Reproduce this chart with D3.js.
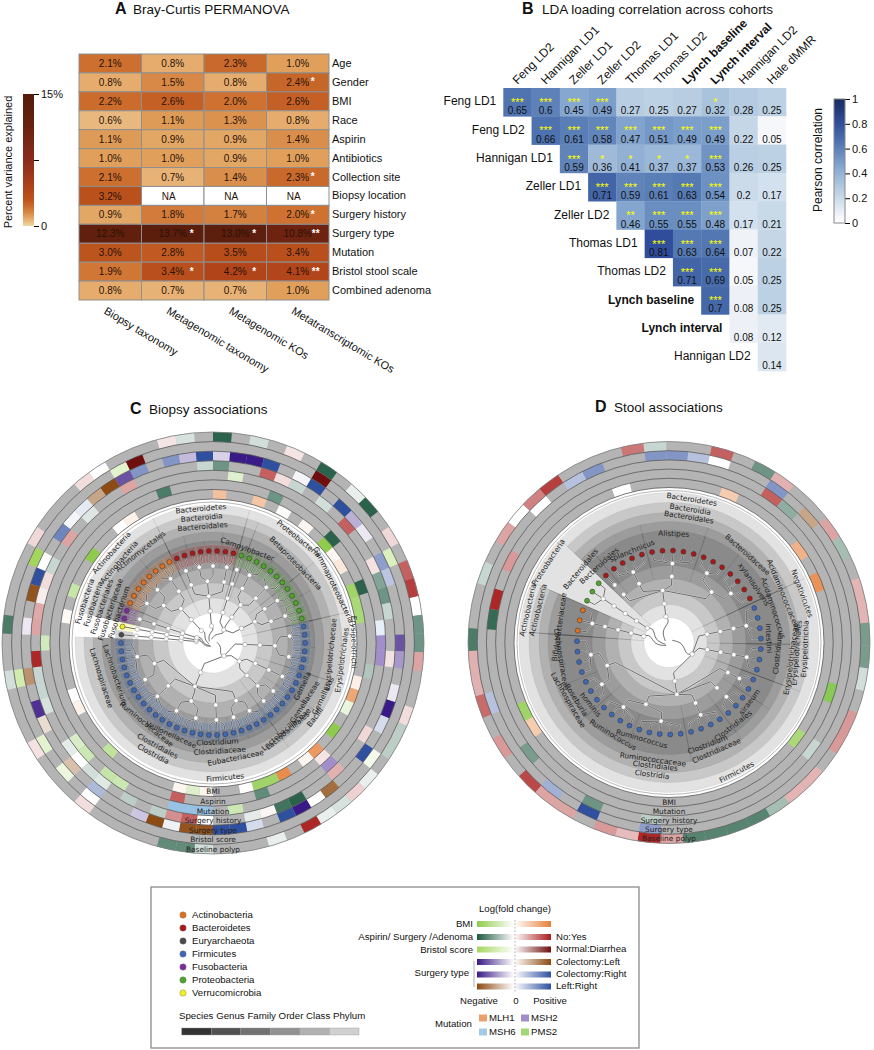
<!DOCTYPE html>
<html>
<head>
<meta charset="utf-8">
<script src="https://cdn.jsdelivr.net/npm/d3@7"></script>
<style>
body { margin: 0; background: #fff; }
text { font-family: "Liberation Sans", Arial, sans-serif; fill: #111; }
.clade text, .clade .ringlabel { font-family: "DejaVu Sans", sans-serif; fill: #222; }
</style>
</head>
<body>
<div id="chart"></div>
<script>
// ---- PANEL A DATA ----
var permanovaRows = ["Age", "Gender", "BMI", "Race", "Aspirin", "Antibiotics", "Collection site", "Biopsy location",
    "Surgery history", "Surgery type", "Mutation", "Bristol stool scale", "Combined adenoma"];
var permanovaCols = ["Biopsy taxonomy", "Metagenomic taxonomy", "Metagenomic KOs", "Metatranscriptomic KOs"];
var permanovaValues = [
    [2.1, 0.8, 2.3, 1.0], [0.8, 1.5, 0.8, 2.4], [2.2, 2.6, 2.0, 2.6], [0.6, 1.1, 1.3, 0.8],
    [1.1, 0.9, 0.9, 1.4], [1.0, 1.0, 0.9, 1.0], [2.1, 0.7, 1.4, 2.3], [3.2, null, null, null],
    [0.9, 1.8, 1.7, 2.0], [12.3, 13.7, 13.0, 10.8], [3.0, 2.8, 3.5, 3.4], [1.9, 3.4, 4.2, 4.1],
    [0.8, 0.7, 0.7, 1.0]
];
var permanovaStars = [
    ["", "", "", ""], ["", "", "", "*"], ["", "", "", ""], ["", "", "", ""], ["", "", "", ""], ["", "", "", ""],
    ["", "", "", "*"], ["", "", "", ""], ["", "", "", "*"], ["", "*", "*", "**"], ["", "", "", ""],
    ["", "*", "*", "**"], ["", "", "", ""]
];

// ---- PANEL B DATA ----
var cohortRows = ["Feng LD1", "Feng LD2", "Hannigan LD1", "Zeller LD1", "Zeller LD2", "Thomas LD1", "Thomas LD2",
    "Lynch baseline", "Lynch interval", "Hannigan LD2"];
var cohortCols = ["Feng LD2", "Hannigan LD1", "Zeller LD1", "Zeller LD2", "Thomas LD1", "Thomas LD2",
    "Lynch baseline", "Lynch interval", "Hannigan LD2", "Hale dMMR"];
var boldCohorts = ["Lynch baseline", "Lynch interval"];
// each row starts on the diagonal
var cohortValues = [
    [0.65, 0.6, 0.45, 0.49, 0.27, 0.25, 0.27, 0.32, 0.28, 0.25],
    [0.66, 0.61, 0.58, 0.47, 0.51, 0.49, 0.49, 0.22, 0.05],
    [0.59, 0.36, 0.41, 0.37, 0.37, 0.53, 0.26, 0.25],
    [0.71, 0.59, 0.61, 0.63, 0.54, 0.2, 0.17],
    [0.46, 0.55, 0.55, 0.48, 0.17, 0.21],
    [0.81, 0.63, 0.64, 0.07, 0.22],
    [0.71, 0.69, 0.05, 0.25],
    [0.7, 0.08, 0.25],
    [0.08, 0.12],
    [0.14]
];
var cohortStars = [
    [3, 3, 3, 3, 0, 0, 0, 1, 0, 0],
    [3, 3, 3, 3, 3, 3, 3, 0, 0],
    [3, 1, 1, 1, 1, 3, 0, 0],
    [3, 3, 3, 3, 3, 0, 0],
    [2, 3, 3, 3, 0, 0],
    [3, 3, 3, 0, 0],
    [3, 3, 0, 0],
    [3, 0, 0],
    [0, 0],
    [0]
];

// ---- CLADOGRAM DATA ----
// taxonomy paths: phylum|class|order|family|genus(|species), then how many leaves
// "_" = unlabelled clade, "!" = clade without a shaded wedge, "#2" = second clade with the same name
var biopsyClades = [
    ["Bacteroidetes|Bacteroidia|Bacteroidales|_a|_g", 2],
    ["Bacteroidetes|Bacteroidia|Bacteroidales|_b|_g", 2],
    ["Bacteroidetes|Bacteroidia|Bacteroidales|_b|_h", 2],
    ["Bacteroidetes|Bacteroidia|Bacteroidales|_c|_g", 2],
    ["Proteobacteria|_e|_o|_f|Campylobacter", 1],
    ["Proteobacteria|Betaproteobacteria|_o|_f|_g", 3],
    ["Proteobacteria|Betaproteobacteria|_o|_h|_g", 3],
    ["Proteobacteria|Gammaproteobacteria|_o|_f|_g", 2],
    ["Proteobacteria|Gammaproteobacteria|_o|_h|_g", 3],
    ["Firmicutes|Erysipelotrichi|Erysipelotrichales|Erysipelotrichaceae|_g", 3],
    ["Firmicutes|Erysipelotrichi|Erysipelotrichales|Erysipelotrichaceae|_h", 3],
    ["Firmicutes|Bacilli|Gemellales|Gemellaceae|Gemella", 3],
    ["Firmicutes|Bacilli|Lactobacillales|Lactobacillaceae|_g", 2],
    ["Firmicutes|Bacilli|Lactobacillales|Lactobacillaceae|_h", 2],
    ["Firmicutes|Clostridia|Clostridiales|Eubacteriaceae|_g", 3],
    ["Firmicutes|Clostridia|Clostridiales|Eubacteriaceae|_h", 2],
    ["Firmicutes|Clostridia|Clostridiales|Clostridiaceae|Clostridium", 3],
    ["Firmicutes|Clostridia|Clostridiales|Veillonellaceae|_g", 3],
    ["Firmicutes|Clostridia|Clostridiales|Veillonellaceae|_h", 3],
    ["Firmicutes|Clostridia|Clostridiales|Ruminococcaceae|_g", 4],
    ["Firmicutes|Clostridia|Clostridiales|Lachnospiraceae|_g", 2],
    ["Firmicutes|Clostridia|Clostridiales|Lachnospiraceae|Lachnobacterium", 5],
    ["!Euryarchaeota|!c|!o|!f|!g", 1],
    ["!Verrucomicrobia|!c|!o|!f|!g", 1],
    ["Fusobacteria|Fusobacteria|Fusobacteriales|Fusobacteriaceae|Fusobacterium", 2],
    ["Actinobacteria|Actinobacteria|Actinomycetales|_f|_g", 3],
    ["Actinobacteria|Actinobacteria|Actinomycetales|_f|_h", 2],
    ["Actinobacteria|Actinobacteria|Actinomycetales|_h|_g", 3]
];
var stoolClades = [
    ["Bacteroidetes|Bacteroidia|Bacteroidales|Bacteroidales#2|_g|Bacteroidales#3", 1],
    ["Bacteroidetes|Bacteroidia|Bacteroidales|_b|splanchnicus", 4],
    ["Bacteroidetes|Bacteroidia|Bacteroidales|_c|Alistipes", 5],
    ["Bacteroidetes|Bacteroidia|Bacteroidales|Bacteroidaceae|_g", 3],
    ["Bacteroidetes|Bacteroidia|Bacteroidales|Bacteroidaceae|xylanisolvens", 4],
    ["Firmicutes|Negativicutes|_o|Acidaminococcaceae|Acidaminococcus", 3],
    ["Firmicutes|Negativicutes|_o|Acidaminococcaceae|Acidaminococcus|intestini", 1],
    ["Firmicutes|Erysipelotrichia|Erysipelotrichales|Erysipelotrichaceae|Clostridium#2", 3],
    ["Firmicutes|Clostridia|Clostridiales|_a|_g", 2],
    ["Firmicutes|Clostridia|Clostridiales|Clostridiales#2|siraeum", 3],
    ["Firmicutes|Clostridia|Clostridiales|Clostridiaceae|Clostridium", 4],
    ["Firmicutes|Clostridia|Clostridiales|Ruminococcaceae|Ruminococcus", 5],
    ["Firmicutes|Clostridia|Clostridiales|Ruminococcaceae|Ruminococcus#2", 4],
    ["Firmicutes|Clostridia|Clostridiales|Lachnospiraceae|Roseburia|hominis", 1],
    ["Firmicutes|Clostridia|Clostridiales|Lachnospiraceae|Roseburia", 2],
    ["Firmicutes|Clostridia|Clostridiales|Lachnospiraceae|Lachnospiraceae#2", 4],
    ["Actinobacteria|Actinobacteria|_o|Bifidobacteriaceae|_g", 3],
    ["Proteobacteria|!c|!o|!f|!g", 3]
];

// ---- HEAT RING DATA: [position round the circle, signed fold change] ----
var biopsyBmi = [[0, .5], [63, .12], [62, 0], [59, -1], [56, -.5], [54, .05], [3, .45], [5, -.03], [7, .08], [9, -1], [10, .08],
    [11, .18], [13, -.85], [14, -.75], [15, -.75], [20, .12], [21, .7], [22, -.2], [24, -1], [26, .8], [27, .08], [29, .9],
    [30, -.85], [31, -.85], [32, 0], [35, .08], [36, -.3], [37, .08], [43, -.55], [47, .1], [48, 0]];
var biopsyAspirin = [[66, -.8], [4, -.65], [9, -.95], [13, -.95], [19, -.35], [26, .12], [31, -.7], [37, .7]];
var biopsyMutation = [[1, "PMS2", .25], [16, "MSH6", .2], [17, "MSH2", .7], [18, "MSH2", .7], [26, "MSH2", .7], [33, "PMS2", .4],
    [35, "MSH6", .8], [36, "MSH6", .8], [37, "MSH6", .8], [41, "PMS2", .4], [42, "PMS2", .45], [44, "PMS2", .4], [45, "PMS2", .3],
    [52, "PMS2", .35]];
var biopsyHistory = [[64, .4], [61, -.15], [59, .4], [57, -.25], [56, .15], [55, .08], [54, .38], [53, .4], [69, -.25], [0, -.65],
    [3, .7], [4, .15], [5, -.25], [7, -.2], [9, .7], [12, .13], [13, -.55], [14, -.65], [15, -.25], [18, .13], [23, .17], [26, .35],
    [29, -.95], [30, -.85], [31, .05], [32, -.12], [35, 0], [36, .7], [37, .5], [38, -.3], [40, -.3], [42, -.14], [43, -.2], [44, 0],
    [45, -.12], [48, -.18], [49, -.25], [50, -.25], [51, .95]];
var biopsyType = [[65, "CR", .6], [64, "CL", -.75], [63, "CL", 1], [62, "CL", .5], [61, "CR", .12], [60, "CR", .05], [59, "CR", .7],
    [57, "CR", 0], [56, "CR", 1], [55, "CL", .95], [53, "CR", -.1], [67, "CR", .6], [68, "CR", -.3], [69, "CR", 1], [0, "CR", -.2],
    [1, "CR", -1], [2, "CR", -1], [3, "CR", 1], [5, "CR", -.05], [6, "CR", 1], [8, "CR", 1], [9, "CR", -.35], [10, "CR", -.1],
    [12, "CR", .55], [13, "CR", .33], [17, "CR", -.75], [18, "CR", -.45], [20, "CR", -.1], [21, "CR", -1], [22, "CR", .2],
    [24, "CR", 1], [27, "CL", .8], [28, "CR", 0], [29, "CR", -1], [30, "CR", 1], [32, "CR", .2], [33, "CR", 1], [34, "CR", 1],
    [35, "CL", .95], [36, "CL", .95], [37, "CR", .08], [38, "CL", 1], [39, "CR", -.25], [42, "CR", .4], [44, "CL", .35], [47, "CL", .2],
    [48, "CR", -.9], [50, "CL", .6]];
var biopsyBristol = [[65, 1], [64, -.3], [57, -1], [6, 1], [12, -.4], [50, -.5], [46, -.3], [44, -.2], [42, 0], [24, -.12]];
var biopsyPolyp = [[67, .12], [68, -.18], [0, -.95], [2, -.2], [4, .12], [6, -.95], [8, -.1], [9, -.95], [11, .17], [13, .7], [14, .85],
    [15, 0], [16, -.65], [17, -.65], [18, .4], [21, .15], [22, -.3], [23, -.3], [25, -.1], [26, .2], [27, -.18], [28, -.1], [29, .95],
    [31, -.1], [35, -.2], [36, -.7], [37, -.7], [42, .15], [46, .13], [50, -.2], [53, -.8], [58, .17], [62, .15], [63, 0]];

var stoolBmi = [[5, .4], [10, .6], [12, .85], [39, -.85], [38, .4], [21, -.75], [54, 0]];
var stoolMutation = [[18, "PMS2", .9]];
var stoolHistory = [[7, .7], [8, -.5], [47, .45], [45, .95], [44, -.9], [37, -.6], [33, -.65], [30, -.3], [21, -.25]];
var stoolType = [[1, "CR", .6], [2, "CR", .6], [3, "CR", .35], [4, "CR", 0], [53, "CR", .6], [52, "CR", .35], [50, "CR", 0], [7, "CR", .6],
    [9, "CL", .5], [40, "CR", .35], [35, "CR", .45], [33, "CR", 1], [30, "CR", .55]];
var stoolPolyp = [[0, .6], [1, -.25], [4, .7], [6, -.65], [7, .35], [10, .4], [11, -.4], [13, .33], [14, .33], [15, -.6], [16, -.6], [17, -.2],
    [19, .45], [20, .45], [22, .33], [23, .33], [24, -.4], [25, -.75], [26, -.75], [27, -.75], [28, -.75], [29, .4], [30, .95], [31, .3],
    [32, .45], [34, .4], [35, .4], [36, .8], [38, .45], [40, .65], [41, .35], [42, .35], [43, -.8], [46, -.25], [48, .4], [49, 0], [50, .55],
    [51, .85]];

// ---- LEGEND DATA ----
var phylumNames = ["Actinobacteria", "Bacteroidetes", "Euryarchaeota", "Firmicutes", "Fusobacteria", "Proteobacteria", "Verrucomicrobia"];
var taxonLevels = ["Species", "Genus", "Family", "Order", "Class", "Phylum"];
var mutationNames = ["MLH1", "MSH2", "MSH6", "PMS2"];

// ---- COLOURS ----
var phylumColor = d3.scaleOrdinal().domain(phylumNames)
    .range(["#e0701f", "#a81818", "#4a4a4a", "#3e68b5", "#7b2d9b", "#4ea52a", "#f0f020"]);
var mutationColor = d3.scaleOrdinal().domain(mutationNames).range(["#e07830", "#7a5db5", "#7eb3dc", "#7cc443"]);

function foldScale(neg, pos) {
    return d3.scaleLinear().domain([-1, 0, 1]).range([neg, "#ffffff", pos]);
}
var bmiScale = foldScale("#8fcc4e", "#e6803a");
var yesNoScale = foldScale("#1f5a41", "#aa1c1c");
var bristolScale = foldScale("#a4d65e", "#6e0e0e");
var surgeryScales = {
    CL: foldScale("#3a1a86", "#8d4a12"),
    CR: foldScale("#3a1a86", "#2f4f9f"),
    LR: foldScale("#8d4a12", "#2f4f9f")
};

var permanovaColor = d3.scaleLinear()
    .domain([0, 0.6, 1, 2, 3, 4.2, 7.5, 12.3, 15])
    .range(["#f0d6a4", "#e9b87e", "#e0a05c", "#cf7231", "#bc541e", "#b2441a", "#8a2b1b", "#61200d", "#561a0c"]);
var pearsonColor = d3.scaleLinear()
    .domain([0, 0.05, 0.25, 0.45, 0.65, 0.81, 1])
    .range(["#ffffff", "#f5f7fa", "#bdd1e4", "#86a8d0", "#4f74b0", "#2f4d9a", "#1a2b60"]);

var svg = d3.select("#chart").append("svg").attr("width", 874).attr("height", 1050);
var defs = svg.append("defs");

function panelTitle(letter, lx, tx, y, title) {
    svg.append("text").attr("x", lx).attr("y", y).attr("font-size", 16).attr("font-weight", "bold").text(letter);
    svg.append("text").attr("x", tx).attr("y", y).attr("font-size", 13.5).text(title);
}
panelTitle("A", 115, 133, 14, "Bray-Curtis PERMANOVA");
panelTitle("B", 522, 542, 14, "LDA loading correlation across cohorts");
panelTitle("C", 130, 149, 414, "Biopsy associations");
panelTitle("D", 595, 614, 412, "Stool associations");

// vertical colour bar shared by panels A and B
function colorBar(id, color, domainMax, x, width, yTop, yBottom, tickVals, tickFormat) {
    var grad = defs.append("linearGradient").attr("id", id)
        .attr("x1", 0).attr("y1", 1).attr("x2", 0).attr("y2", 0);
    d3.range(0, 1.001, 0.05).forEach(function(t) {
        grad.append("stop").attr("offset", t).attr("stop-color", color(t * domainMax));
    });
    svg.append("rect").attr("x", x).attr("y", yTop).attr("width", width).attr("height", yBottom - yTop)
        .attr("fill", "url(#" + id + ")");
    var scale = d3.scaleLinear().domain([0, domainMax]).range([yBottom, yTop]);
    var axis = svg.append("g").attr("transform", "translate(" + (x + width) + ",0)")
        .call(d3.axisRight(scale).tickValues(tickVals).tickFormat(tickFormat).tickSize(5).tickPadding(2));
    axis.select(".domain").remove();
    axis.selectAll("text").attr("font-size", 11);
    return axis;
}

// ---- PANEL A ----
function drawPermanova() {
    var x = d3.scaleBand().domain(permanovaCols).range([79, 329]);
    var y = d3.scaleBand().domain(permanovaRows).range([54, 300]);
    var g = svg.append("g").attr("text-anchor", "middle");

    permanovaRows.forEach(function(row, r) {
        permanovaCols.forEach(function(col, c) {
            var v = permanovaValues[r][c];
            g.append("rect").attr("x", x(col)).attr("y", y(row))
                .attr("width", x.bandwidth()).attr("height", y.bandwidth())
                .attr("fill", v === null ? "#fff" : permanovaColor(v))
                .attr("stroke", "#8f8f8f").attr("stroke-width", 1);
            g.append("text").attr("x", x(col) + x.bandwidth() / 2 - (v === null ? 4 : 0))
                .attr("y", y(row) + y.bandwidth() / 2).attr("dy", "0.36em")
                .attr("font-size", 10).style("fill", "#2a1206")
                .text(v === null ? "NA" : v.toFixed(1) + "%");
            var star = permanovaStars[r][c];
            if (star) {
                g.append("text")
                    .attr("x", x(col) + x.bandwidth() / 2 + (star.length > 1 ? 18 : (c === 3 ? 15 : 19)))
                    .attr("y", y(row) + y.bandwidth() / 2 + 3)
                    .attr("font-size", 10).attr("font-weight", "bold").style("fill", "#fff").text(star);
            }
        });
    });

    var rowAxis = svg.append("g").attr("transform", "translate(329,0)")
        .call(d3.axisRight(y).tickSize(0).tickPadding(3));
    rowAxis.select(".domain").remove();
    rowAxis.selectAll("text").attr("font-size", 11);
    rowAxis.attr("font-size", null).attr("font-family", null);

    permanovaCols.forEach(function(col) {
        svg.append("text").attr("font-size", 11)
            .attr("transform", "translate(" + (x(col) + x.bandwidth() / 2 - 7) + ",313) rotate(31)")
            .text(col);
    });

    colorBar("barA", permanovaColor, 15, 23, 11, 94, 226, [0, 7.5, 15], function(d) {
        return d === 15 ? "15%" : d === 0 ? "0" : "";
    });
    svg.append("text").attr("font-size", 11).attr("text-anchor", "middle")
        .attr("transform", "translate(12,162) rotate(-90)").text("Percent variance explained");
}

// ---- PANEL B ----
function drawCorrelation() {
    var x = d3.scaleBand().domain(cohortCols).range([503.3, 786]);
    var y = d3.scaleBand().domain(cohortRows).range([88, 371]);
    var g = svg.append("g").attr("text-anchor", "middle");

    cohortValues.forEach(function(values, r) {
        values.forEach(function(v, k) {
            var col = cohortCols[r + k], cx = x(col) + x.bandwidth() / 2, top = y(cohortRows[r]);
            g.append("rect").attr("x", x(col)).attr("y", top)
                .attr("width", x.bandwidth() + 0.3).attr("height", y.bandwidth() + 0.3)
                .attr("fill", pearsonColor(v));
            var n = cohortStars[r][k];
            if (n) {
                g.append("text").attr("x", cx).attr("y", top + 18).attr("font-size", 11)
                    .style("fill", "#ffff00").text("*".repeat(n));
            }
            g.append("text").attr("x", cx).attr("y", top + 22.7).attr("dy", "0.36em")
                .attr("font-size", 10).text(v);
        });
    });

    cohortRows.forEach(function(name, r) {
        svg.append("text").attr("text-anchor", "end").attr("font-size", 12)
            .attr("x", x(cohortCols[r]) - 7).attr("y", y(name) + y.bandwidth() / 2 - 1).attr("dy", "0.36em")
            .attr("font-weight", boldCohorts.includes(name) ? "bold" : "normal").text(name);
    });
    cohortCols.forEach(function(name) {
        svg.append("text").attr("font-size", 12)
            .attr("font-weight", boldCohorts.includes(name) ? "bold" : "normal")
            .attr("transform", "translate(" + (x(name) + x.bandwidth() / 2) + ",85) rotate(-45)")
            .text(name);
    });

    colorBar("barB", pearsonColor, 1, 834, 11, 99, 223, [0, 0.2, 0.4, 0.6, 0.8, 1], function(d) { return d; });
    svg.append("rect").attr("x", 834).attr("y", 99).attr("width", 11).attr("height", 124)
        .attr("fill", "none").attr("stroke", "#888");
    svg.append("text").attr("font-size", 12).attr("text-anchor", "middle")
        .attr("transform", "translate(822,160) rotate(-90)").text("Pearson correlation");
}

// ---- CLADOGRAMS ----
function buildTree(rows) {
    var root = { name: "", children: [] };
    rows.forEach(function(row) {
        var node = root;
        row[0].split("|").forEach(function(part) {
            var next = node.children.find(function(c) { return c.name === part; });
            if (!next) {
                next = { name: part, children: [] };
                node.children.push(next);
            }
            node = next;
        });
        if (row[0].split("|").length < 6) {
            for (var i = 0; i < row[1]; i++) node.children.push({ name: "!leaf", children: [] });
        }
    });
    return d3.hierarchy(root, function(d) { return d.children.length ? d.children : null; });
}

function drawCladogram(p) {
    var g = svg.append("g").attr("class", "clade").attr("transform", "translate(" + p.cx + "," + p.cy + ")");
    var rad = Math.PI / 180;
    var arc = d3.arc();

    // heat rings, innermost first
    var ringR = d3.scaleLinear().domain([0, p.rings.length]).range([p.ringInner, p.ringOuter]);
    g.append("path").attr("fill", "#b4b4b4")
        .attr("d", arc({ innerRadius: p.ringInner, outerRadius: p.ringOuter, startAngle: 0, endAngle: 2 * Math.PI }));
    p.rings.forEach(function(ring, k) {
        ring.cells.forEach(function(cell) {
            var mid = p.ringAngle(cell[0]);
            g.append("path").attr("fill", ring.color(cell))
                .attr("d", arc({
                    innerRadius: ringR(k), outerRadius: ringR(k + 1),
                    startAngle: (mid - p.step / 2) * rad, endAngle: (mid + p.step / 2) * rad
                }));
        });
    });
    d3.range(p.rings.length + 1).forEach(function(k) {
        g.append("circle").attr("r", ringR(k)).attr("fill", "none")
            .attr("stroke", k === p.rings.length ? "#808080" : "#5a5a5a").attr("stroke-width", 0.8);
    });
    g.append("circle").attr("r", p.gapCircle).attr("fill", "none").attr("stroke", "#999").attr("stroke-width", 0.7);

    // tree layout: cluster puts the leaf centres half a step in from the edges of the size
    var root = buildTree(p.clades);
    var n = root.leaves().length;
    d3.cluster().size([n * p.step, 1]).separation(function() { return 1; })(root);
    var angle = function(d) { return d.x + p.startAngle; };
    var radius = d3.scaleOrdinal().domain([0, 1, 2, 3, 4, 5, 6]).range(p.nodeRadius);

    // nested wedges darken towards the middle of the band
    root.descendants().forEach(function(d) {
        if (d.depth === 0 || d.depth > 5 || d.data.name.charAt(0) === "!") return;
        var lv = d.leaves();
        g.append("path").attr("fill", "#000").attr("fill-opacity", 0.115)
            .attr("stroke", "#000").attr("stroke-opacity", 0.1).attr("stroke-width", 0.5)
            .attr("d", arc({
                innerRadius: p.wedgeInner[d.depth - 1], outerRadius: p.wedgeOuter[d.depth - 1],
                startAngle: (angle(lv[0]) - p.step / 2) * rad,
                endAngle: (angle(lv[lv.length - 1]) + p.step / 2) * rad
            }));
    });

    // coloured band behind the leaves
    var phylumOf = function(d) { return d.ancestors().reverse()[1].data.name.replace("!", ""); };
    if (p.leafBand) {
        root.leaves().forEach(function(d) {
            g.append("path").attr("fill", phylumColor(phylumOf(d))).attr("fill-opacity", 0.25)
                .attr("stroke", "#fff").attr("stroke-opacity", 0.25).attr("stroke-width", 0.4)
                .attr("d", arc({
                    innerRadius: p.leafBand[0], outerRadius: p.leafBand[1],
                    startAngle: (angle(d) - p.step / 2) * rad, endAngle: (angle(d) + p.step / 2) * rad
                }));
        });
    }

    var line = d3.lineRadial().angle(function(q) { return q[0] * rad; }).radius(function(q) { return q[1]; });
    var curvy = d3.lineRadial().angle(function(q) { return q[0] * rad; }).radius(function(q) { return q[1]; }).curve(d3.curveBasis);
    root.links().forEach(function(l) {
        var rs = radius(l.source.depth), rt = radius(l.target.depth), a0 = angle(l.source), a1 = angle(l.target);
        var pts, maker = line;
        if (l.source.depth === 0) {
            pts = [[a1 - 60, 4], [a1 - 25, rt * 0.55], [a1 + 10, rt * 0.8], [a1, rt]];
            maker = curvy;
        } else {
            pts = [[a0, rs], [a1, rs + (rt - rs) * 0.35], [a1, rt]];
        }
        var path = maker(pts);
        g.append("path").attr("d", path).attr("fill", "none").attr("stroke", "#fff").attr("stroke-opacity", 0.6).attr("stroke-width", 1.6);
        g.append("path").attr("d", path).attr("fill", "none").attr("stroke", "#4a4a4a").attr("stroke-width", 0.8);
    });

    root.descendants().forEach(function(d) {
        if (d.depth === 0) return;
        var a = (angle(d) - 90) * rad, r = radius(d.depth);
        g.append("circle").attr("cx", r * Math.cos(a)).attr("cy", r * Math.sin(a))
            .attr("r", d.children ? 2.2 : 2.5)
            .attr("fill", d.children ? "#fff" : phylumColor(phylumOf(d)))
            .attr("stroke", d.children ? "#888" : "#333").attr("stroke-width", 0.5);
    });

    // taxon names run along the tangent and stay upright
    root.descendants().forEach(function(d) {
        var name = d.data.name;
        if (d.depth === 0 || "_!".includes(name.charAt(0))) return;
        var show = name.split("#")[0];
        var nudge = p.nudge[name + "@" + d.depth] || [0, 0];
        var lv = d.leaves();
        var a = (angle(lv[0]) + angle(lv[lv.length - 1])) / 2 + nudge[0];
        var r = p.labelRadius[d.depth - 1] + nudge[1];
        var pa = (a - 90) * rad;
        var norm = ((a % 360) + 360) % 360;
        var rot = norm > 90 && norm < 270 ? a + 180 : a;
        g.append("text").attr("font-size", 7.4).attr("text-anchor", "middle").attr("dy", "0.35em")
            .attr("transform", "translate(" + (r * Math.cos(pa)) + "," + (r * Math.sin(pa)) + ") rotate(" + rot + ")")
            .text(show);
    });

    // ring names at the bottom
    p.rings.forEach(function(ring, k) {
        g.append("text").attr("class", "ringlabel").attr("font-size", 7.4).attr("text-anchor", "middle")
            .attr("dy", "0.35em").attr("x", 0).attr("y", (ringR(k) + ringR(k + 1)) / 2).text(ring.label);
    });
}

var yesNoCell = function(c) { return yesNoScale(c[1]); };
var typeCell = function(c) { return surgeryScales[c[1]](c[2]); };
var mutationCell = function(c) { return d3.interpolateRgb("#ffffff", mutationColor(c[1]))(c[2]); };

drawPermanova();
drawCorrelation();

var biopsyStep = 360 / 70;
drawCladogram({
    cx: 213, cy: 643, clades: biopsyClades, step: biopsyStep, startAngle: -5 * biopsyStep,
    ringAngle: function(i) { return (i + 0.5) * biopsyStep; },
    ringInner: 144, ringOuter: 211, gapCircle: 141,
    nodeRadius: [0, 17, 32, 47, 62, 77, 92],
    wedgeInner: [30, 45, 60, 75, 88], wedgeOuter: [138, 129, 120, 111, 102],
    labelRadius: [135, 126, 117, 108, 99, 90],
    leafBand: [80, 98],
    nudge: {
        "Proteobacteria@1": [-7, 0], "Betaproteobacteria@2": [10, -11], "Gammaproteobacteria@2": [0, 8],
        "Eubacteriaceae@4": [12, 9], "Lachnospiraceae@4": [-2, 9], "Lachnobacterium@5": [-8, 4],
        "Ruminococcaceae@4": [-7, -3], "Veillonellaceae@4": [4, -7], "Lactobacillaceae@4": [6, 5],
        "Lactobacillales@3": [6, -2], "Erysipelotrichi@2": [-3, 15], "Erysipelotrichales@3": [5, 13],
        "Erysipelotrichaceae@4": [3, 10], "Gemellales@3": [0, 5], "Gemellaceae@4": [7, 1], "Campylobacter@5": [2, 1],
        "Clostridiaceae@4": [-1, 0], "Actinomycetales@3": [8, 0], "Actinobacteria@1": [-2, 1], "Actinobacteria@2": [-3, -2]
    },
    rings: [
        { label: "BMI", cells: biopsyBmi, color: function(c) { return bmiScale(c[1]); } },
        { label: "Aspirin", cells: biopsyAspirin, color: yesNoCell },
        { label: "Mutation", cells: biopsyMutation, color: mutationCell },
        { label: "Surgery history", cells: biopsyHistory, color: yesNoCell },
        { label: "Surgery type", cells: biopsyType, color: typeCell },
        { label: "Bristol score", cells: biopsyBristol, color: function(c) { return bristolScale(c[1]); } },
        { label: "Baseline polyp", cells: biopsyPolyp, color: yesNoCell }
    ]
});

var stoolStep = 360 / 55;
drawCladogram({
    cx: 669, cy: 642.5, clades: stoolClades, step: stoolStep, startAngle: -10.6 - 5.5 * stoolStep,
    ringAngle: function(i) { return -10.6 + i * stoolStep; },
    ringInner: 155, ringOuter: 201, gapCircle: 152,
    nodeRadius: [0, 26, 39, 52.5, 66, 79, 92],
    wedgeInner: [25, 38, 51, 64, 77], wedgeOuter: [150, 140, 130, 121, 112],
    labelRadius: [145, 135, 127, 118, 109, 100],
    nudge: {
        "Bacteroidales#2@4": [-7, -3], "Bacteroidales#3@6": [1, 4], "splanchnicus@5": [5, -10],
        "xylanisolvens@5": [4, -6], "Negativicutes@2": [-8, 7], "Acidaminococcaceae@4": [-10, 6],
        "Acidaminococcus@5": [-6, 1], "intestini@6": [0, 0], "Erysipelotrichia@2": [-8, 1],
        "Erysipelotrichales@3": [-6, 1], "Erysipelotrichaceae@4": [-3, 5], "Clostridium#2@5": [-5, 0],
        "siraeum@5": [-7, -9], "Clostridiales#2@4": [9, -13], "Clostridia@2": [-5, -2], "Clostridiales@3": [-6, -3],
        "Ruminococcaceae@4": [-11, 0], "Ruminococcus@5": [10, -9], "Ruminococcus#2@5": [-4, -1],
        "Lachnospiraceae@4": [-11, -2], "Firmicutes@1": [-17, 1], "Proteobacteria@1": [0, 0],
        "Bifidobacteriaceae@4": [-6, -7], "Actinobacteria@1": [-1, 0], "Clostridium@5": [3, 0]
    },
    rings: [
        { label: "BMI", cells: stoolBmi, color: function(c) { return bmiScale(c[1]); } },
        { label: "Mutation", cells: stoolMutation, color: mutationCell },
        { label: "Surgery history", cells: stoolHistory, color: yesNoCell },
        { label: "Surgery type", cells: stoolType, color: typeCell },
        { label: "Baseline polyp", cells: stoolPolyp, color: yesNoCell }
    ]
});

// ---- LEGEND ----
function drawLegend() {
    var g = svg.append("g").attr("font-size", 9.6);
    g.append("rect").attr("x", 151).attr("y", 887).attr("width", 488).attr("height", 161)
        .attr("fill", "#fff").attr("stroke", "#8a8a8a").attr("stroke-width", 1.3);

    var dotY = d3.scalePoint().domain(phylumNames).range([915, 993]);
    phylumNames.forEach(function(name) {
        g.append("circle").attr("cx", 183).attr("cy", dotY(name)).attr("r", 3.2)
            .attr("fill", phylumColor(name)).attr("stroke", "#777").attr("stroke-width", 0.4);
        g.append("text").attr("x", 192).attr("y", dotY(name)).attr("dy", "0.36em").text(name);
    });

    var levelX = d3.scaleBand().domain(taxonLevels).range([181.7, 359]);
    var shades = d3.scaleLinear().domain([0, 5]).range(["#333333", "#d0d0d0"]);
    taxonLevels.forEach(function(name, i) {
        g.append("rect").attr("x", levelX(name)).attr("y", 1028).attr("width", levelX.bandwidth()).attr("height", 7)
            .attr("fill", shades(i)).attr("stroke", "#999").attr("stroke-width", 0.4);
    });
    g.append("text").attr("x", 179).attr("y", 1019).attr("font-size", 9.7).text(taxonLevels.join(" "));

    g.append("text").attr("x", 515).attr("y", 909).attr("dy", "0.36em").attr("text-anchor", "middle").text("Log(fold change)");

    var bars = [
        { y: 924, s: bmiScale, left: "BMI" },
        { y: 937, s: yesNoScale, left: "Aspirin/ Surgery /Adenoma", right: "No:Yes" },
        { y: 949.5, s: bristolScale, left: "Bristol score", right: "Normal:Diarrhea" },
        { y: 962, s: surgeryScales.CL, right: "Colectomy:Left" },
        { y: 974.5, s: surgeryScales.CR, right: "Colectomy:Right" },
        { y: 986.5, s: surgeryScales.LR, right: "Left:Right" }
    ];
    bars.forEach(function(b, i) {
        var id = "fold" + i;
        var grad = defs.append("linearGradient").attr("id", id);
        [-1, -0.5, 0, 0.5, 1].forEach(function(t) {
            grad.append("stop").attr("offset", (t + 1) / 2).attr("stop-color", b.s(t));
        });
        g.append("rect").attr("x", 477).attr("y", b.y - 3).attr("width", 74).attr("height", 6).attr("fill", "url(#" + id + ")");
        if (b.left) {
            g.append("text").attr("x", 473).attr("y", b.y).attr("dy", "0.36em").attr("text-anchor", "end").text(b.left);
        }
        if (b.right) {
            g.append("text").attr("x", 556).attr("y", b.y - 0.5).attr("dy", "0.36em").text(b.right);
        }
    });
    g.append("line").attr("x1", 515).attr("x2", 515).attr("y1", 920).attr("y2", 992)
        .attr("stroke", "#999").attr("stroke-width", 0.8).attr("stroke-dasharray", "1.5,2");
    g.append("line").attr("x1", 474).attr("x2", 474).attr("y1", 961).attr("y2", 987).attr("stroke", "#999").attr("stroke-width", 0.8);
    g.append("text").attr("x", 469).attr("y", 973).attr("dy", "0.36em").attr("text-anchor", "end").text("Surgery type");

    [["Negative", 479], ["0", 516], ["Positive", 550]].forEach(function(t) {
        g.append("text").attr("x", t[1]).attr("y", 1001).attr("dy", "0.36em").attr("text-anchor", "middle").text(t[0]);
    });

    g.append("text").attr("x", 435).attr("y", 1024).attr("dy", "0.36em").text("Mutation");
    var mutX = d3.scaleOrdinal().domain(mutationNames).range([479, 521, 479, 521]);
    var mutY = d3.scaleOrdinal().domain(mutationNames).range([1018, 1018, 1032, 1032]);
    mutationNames.forEach(function(name) {
        g.append("rect").attr("x", mutX(name)).attr("y", mutY(name) - 3.5).attr("width", 8).attr("height", 7)
            .attr("fill", mutationColor(name)).attr("fill-opacity", 0.7);
        g.append("text").attr("x", mutX(name) + 10).attr("y", mutY(name)).attr("dy", "0.36em").text(name);
    });
}
drawLegend();
</script>
</body>
</html>
